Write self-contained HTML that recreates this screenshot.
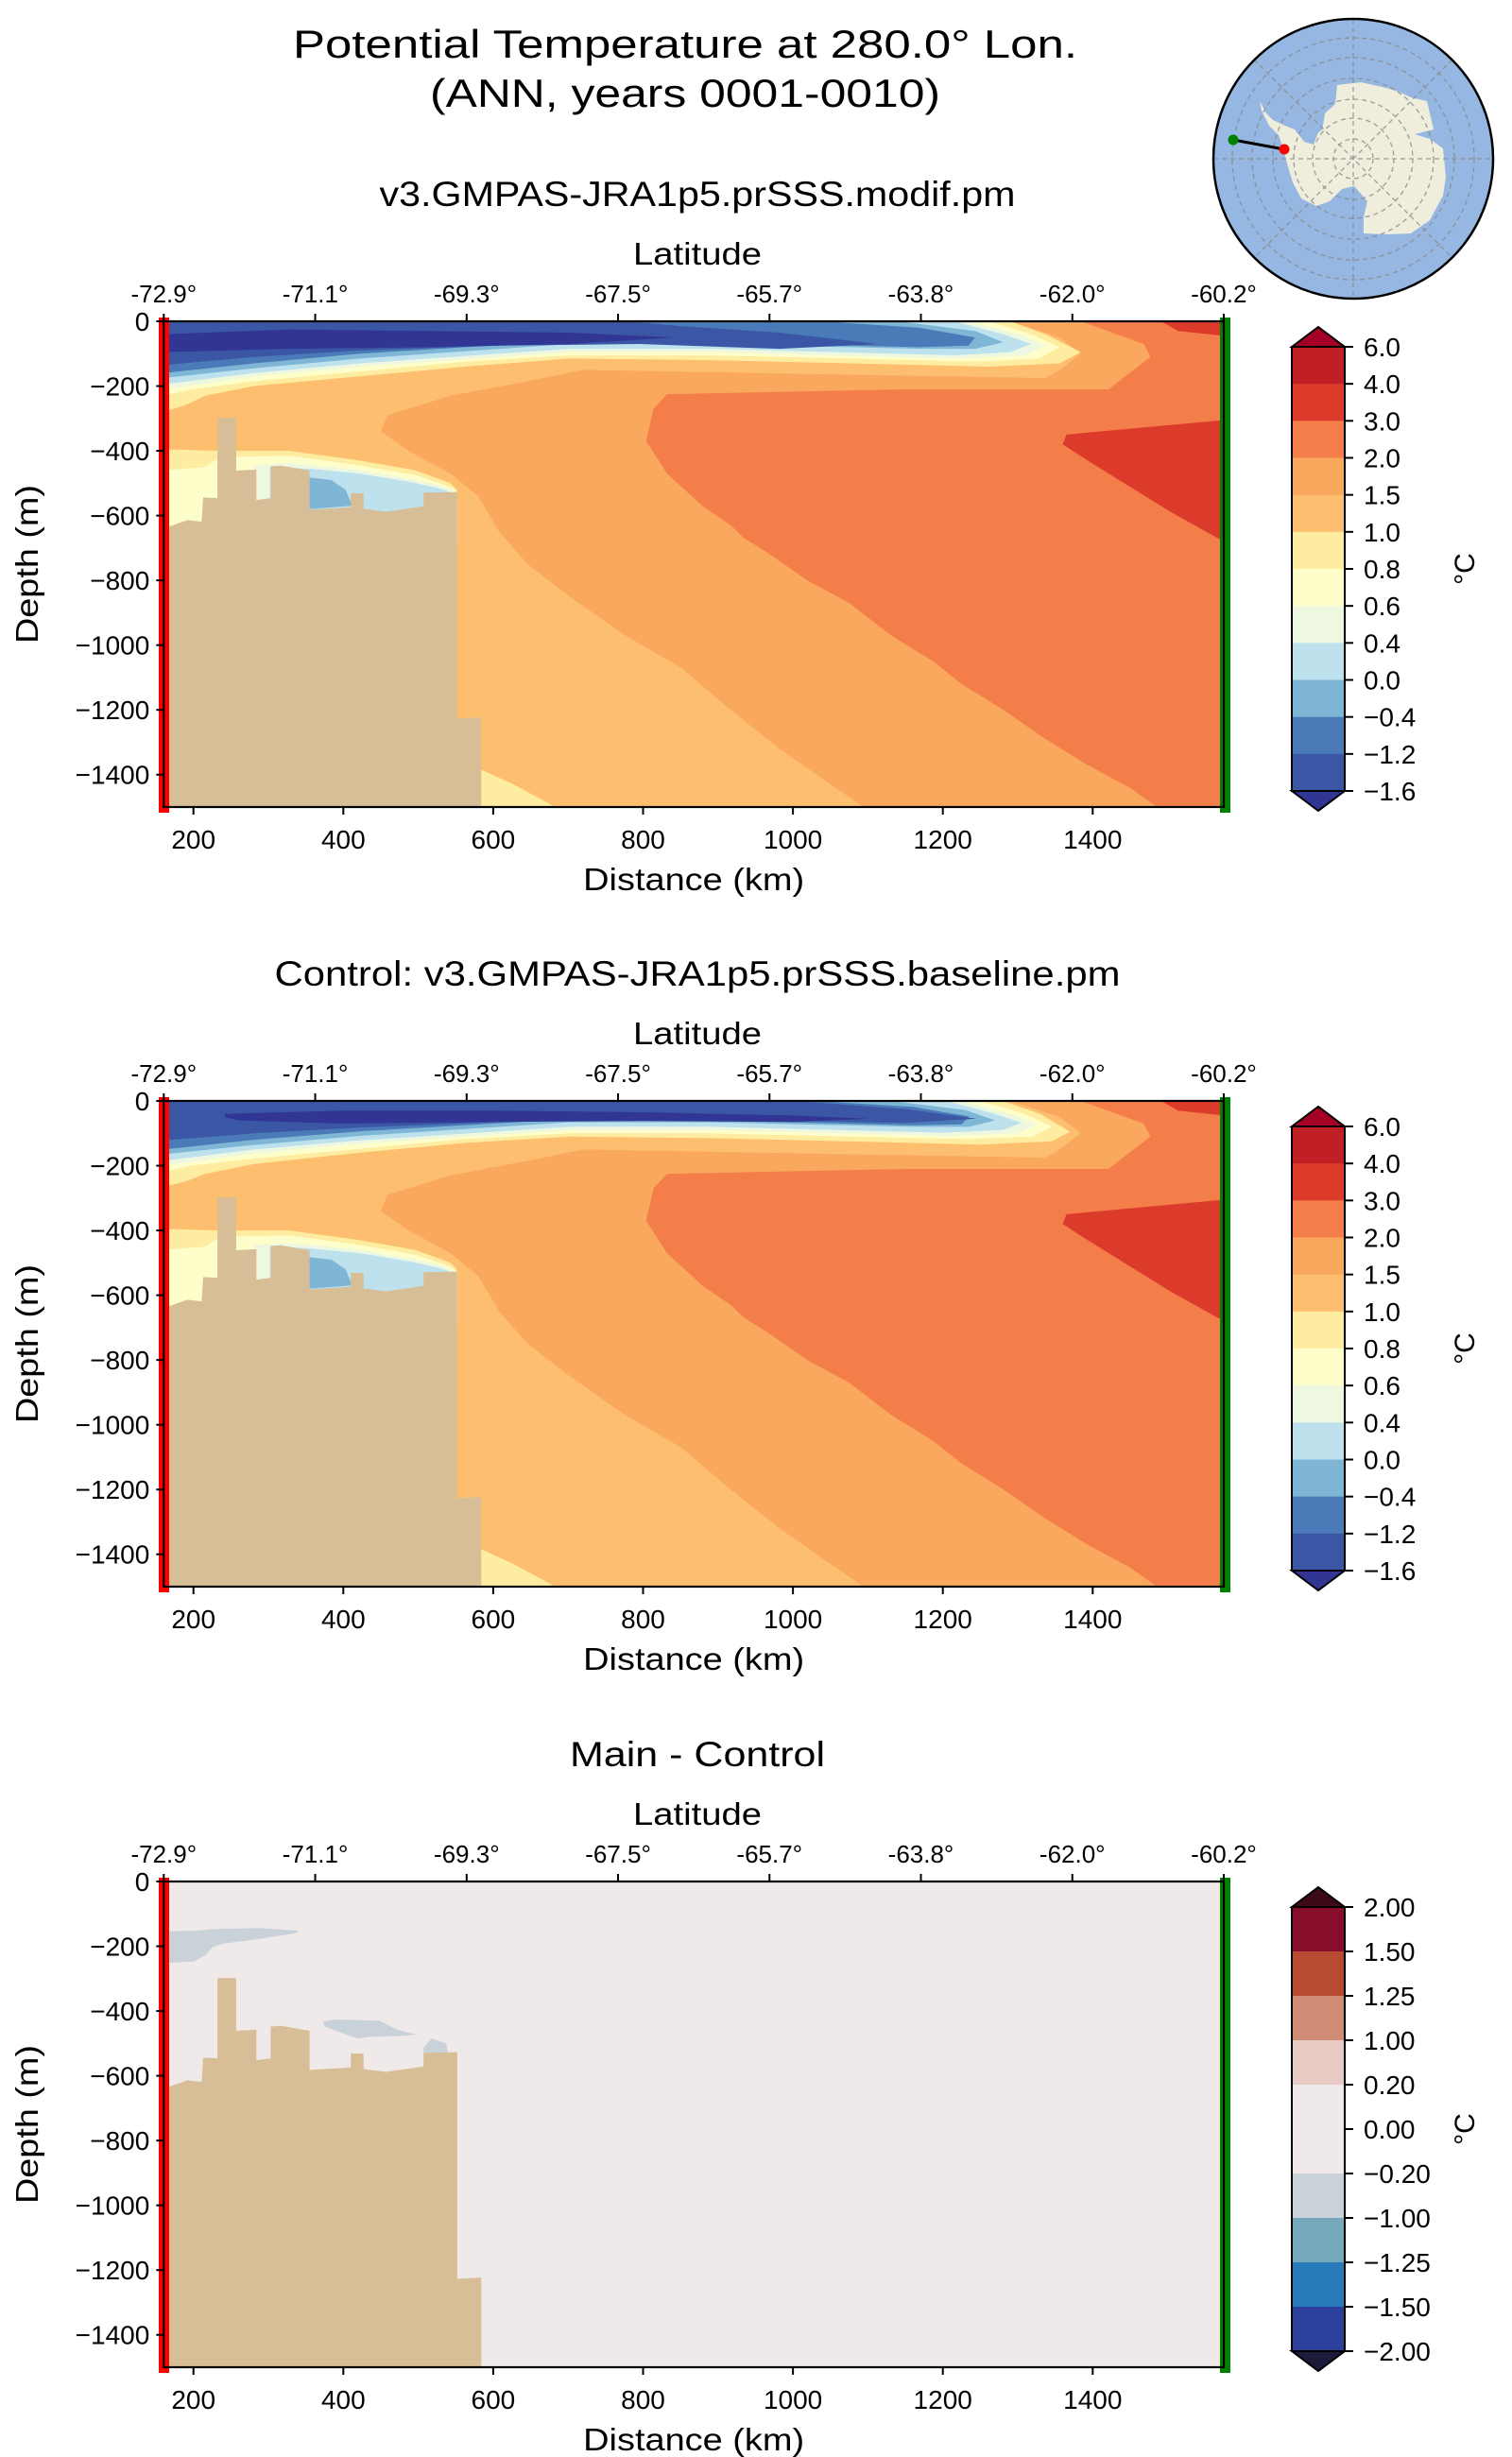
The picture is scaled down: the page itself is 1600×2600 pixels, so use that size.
<!DOCTYPE html>
<html><head><meta charset="utf-8">
<style>
html,body{margin:0;padding:0;background:#fff;}
svg{display:block;font-family:"Liberation Sans","DejaVu Sans",sans-serif;}
</style></head>
<body>
<svg id="fig" width="1600" height="2600" viewBox="0 0 1600 2600" xmlns="http://www.w3.org/2000/svg">
  <rect x="0" y="0" width="1600" height="2600" fill="#fff"/>
  <text x="725" y="61" font-size="42" text-anchor="middle" textLength="830" lengthAdjust="spacingAndGlyphs">Potential Temperature at 280.0° Lon.</text>
  <text x="725" y="113" font-size="42" text-anchor="middle" textLength="540" lengthAdjust="spacingAndGlyphs">(ANN, years 0001-0010)</text>
  <g>
    <defs><clipPath id="gclip"><circle cx="1432" cy="168" r="148"/></clipPath></defs>
    <circle cx="1432" cy="168" r="148" fill="#96b7e2"/>
    <g clip-path="url(#gclip)">
      <path fill="#efeddc" d="M1415,90 L1440,87 L1467,93 L1480,97 L1493,103 L1510,107 L1517,137 L1497,142 L1513,147 L1527,157 L1530,187 L1527,207 L1513,233 L1493,247 L1467,248 L1443,247 L1443,230 L1447,213 L1433,197 L1420,200 L1407,213 L1393,218 L1377,210 L1368,193 L1363,177 L1358,157 L1353,143 L1343,133 L1335,117 L1333,107 L1340,120 L1347,127 L1360,133 L1370,137 L1380,150 L1390,153 L1395,140 L1400,137 L1397,147 L1400,133 L1402,120 L1413,110 Z"/>
      <g fill="none" stroke="#888" stroke-width="1.3" stroke-dasharray="5,4" opacity="0.8">
        <circle cx="1432" cy="168" r="21"/><circle cx="1432" cy="168" r="43"/><circle cx="1432" cy="168" r="63"/>
        <circle cx="1432" cy="168" r="85"/><circle cx="1432" cy="168" r="107"/><circle cx="1432" cy="168" r="128"/>
        <line x1="1284" y1="168" x2="1580" y2="168"/><line x1="1432" y1="20" x2="1432" y2="316"/>
        <line x1="1327" y1="63" x2="1537" y2="273"/><line x1="1537" y1="63" x2="1327" y2="273"/>
      </g>
    </g>
    <circle cx="1432" cy="168" r="148" fill="none" stroke="#000" stroke-width="2.5"/>
    <line x1="1305" y1="148" x2="1359" y2="158" stroke="#000" stroke-width="3"/>
    <circle cx="1305" cy="148" r="5.5" fill="#008000"/>
    <circle cx="1359" cy="158" r="5.5" fill="#ff0000"/>
  </g>
</svg>
<script>
// ---------- data ----------
const xTicks = [200,400,600,800,1000,1200,1400];
const yTicks = [0,-200,-400,-600,-800,-1000,-1200,-1400];
const latTickLabels = ["-72.9°","-71.1°","-69.3°","-67.5°","-65.7°","-63.8°","-62.0°","-60.2°"];
const panelTitles = ["v3.GMPAS-JRA1p5.prSSS.modif.pm","Control: v3.GMPAS-JRA1p5.prSSS.baseline.pm","Main - Control"];

const tempLevels = ["6.0","4.0","3.0","2.0","1.5","1.0","0.8","0.6","0.4","0.0","−0.4","−1.2","−1.6"];
const tempColors = ["#c11f26","#dc3b2c","#f47e4a","#f9a85e","#fdbe70","#feeca0","#fefecb","#eef8e0","#bde2ee","#7fb6d6","#4a7ab7","#3b56a4"];
const tempOver = "#a50026", tempUnder = "#313695";
const diffLevels = ["2.00","1.50","1.25","1.00","0.20","0.00","−0.20","−1.00","−1.25","−1.50","−2.00"];
const diffColors = ["#870e2a","#b84a31","#cf8b74","#e6cac3","#efe9e9","#efe9e9","#c9d2d8","#76a9be","#277bb9","#2b3f9b"];
const diffOver = "#3e0a18", diffUnder = "#1c1b3c";

// bathymetry (km, depth m)
const bathy = [[160,1500],[160,640],[192,614],[211,619],[213,544],[232,546],[232,298],[257,298],[257,461],[284,458],[284,552],[303,546],[303,448],[317,446],[355,461],[355,582],[399,576],[410,574],[410,531],[427,531],[427,579],[457,588],[486,578],[507,571],[507,529],[552,527],[552,1227],[584,1223],[584,1500]];

const modifT15 = [[1290,0],[1356,50],[1384,100],[1356,150],[1337,175],[1075,165],[720,150],[646,185],[543,230],[459,290],[450,340],[487,400],[543,470],[580,540],[608,650],[646,750],[702,850],[776,970],[851,1070],[917,1200],[982,1320],[1038,1410],[1094,1500],[1575,1500],[1575,0]];
const modifT20 = [[1384,0],[1468,70],[1477,110],[1449,160],[1421,210],[1150,210],[832,225],[814,270],[804,370],[832,470],[879,570],[917,630],[935,670],[963,710],[1019,800],[1075,870],[1131,970],[1187,1050],[1225,1120],[1281,1200],[1337,1290],[1393,1370],[1449,1440],[1486,1500],[1575,1500],[1575,0]];
const modifT30a = [[1491,0],[1514,30],[1575,45],[1575,0]];
const modifT30b = [[1575,305],[1365,350],[1360,380],[1393,430],[1449,510],[1505,590],[1575,680]];
const modifE1 = [[160,0],[1290,0],[1337,40],[1384,95],[1356,130],[1262,140],[1075,130],[889,120],[702,115],[562,140],[422,170],[281,200],[216,230],[188,260],[160,280]];
const modifE2 = [[160,0],[1262,0],[1318,40],[1356,80],[1328,115],[1243,125],[1075,115],[889,105],[702,105],[562,125],[422,155],[281,185],[197,210],[160,230]];
const modifE3 = [[160,0],[1234,0],[1300,40],[1337,75],[1309,105],[1215,115],[889,95],[702,95],[422,140],[281,170],[160,210]];
const modifE4 = [[160,0],[1215,0],[1281,40],[1318,70],[1290,95],[1215,105],[889,85],[702,85],[422,130],[281,160],[160,195]];
const modifE5 = [[160,0],[1141,0],[1243,30],[1281,65],[1243,85],[1169,85],[889,70],[702,70],[422,115],[281,145],[160,175]];
const modifE6 = [[160,0],[1038,0],[1169,20],[1243,50],[1234,75],[1169,80],[889,65],[702,60],[422,100],[281,130],[160,160]];
const modifE7 = [[160,0],[776,0],[851,15],[982,35],[1113,70],[982,85],[795,70],[608,75],[422,90],[281,110],[160,135]];
const modifE8 = [[160,40],[328,25],[515,30],[702,35],[842,50],[702,70],[515,80],[328,85],[160,95]];
const shelfS1 = [[160,395],[235,400],[328,400],[422,430],[496,460],[543,500],[552,522],[552,700],[160,700]];
const shelfS2 = [[160,460],[216,450],[235,420],[328,415],[422,445],[496,475],[534,505],[549,520],[549,700],[160,700]];
const shelfS3 = [[281,445],[328,438],[422,460],[496,490],[534,510],[546,522],[546,700],[281,700]];
const shelfS4 = [[302,450],[354,455],[422,470],[487,495],[527,515],[540,525],[540,700],[302,700]];
const shelfS5 = [[354,482],[384,490],[403,520],[412,570],[354,580]];
const deepYellow = [[580,1380],[627,1430],[683,1500],[580,1500]];

const ctrlE1 = [[160,0],[1280,0],[1330,40],[1370,95],[1345,125],[1250,135],[1075,125],[889,115],[702,110],[562,130],[422,160],[281,195],[216,225],[188,250],[160,265]];
const ctrlE2 = [[160,0],[1250,0],[1310,40],[1345,80],[1320,110],[1230,118],[1075,110],[889,100],[702,100],[562,118],[422,148],[281,178],[197,200],[160,220]];
const ctrlE3 = [[160,0],[1225,0],[1290,40],[1325,72],[1300,100],[1205,108],[889,90],[702,90],[422,132],[281,162],[160,200]];
const ctrlE4 = [[160,0],[1205,0],[1270,40],[1305,68],[1280,90],[1200,98],[889,80],[702,80],[422,122],[281,150],[160,185]];
const ctrlE5 = [[160,0],[1130,0],[1230,28],[1270,60],[1235,80],[1160,80],[889,66],[702,66],[422,108],[281,136],[160,165]];
const ctrlE6 = [[160,0],[1030,0],[1160,18],[1235,48],[1225,72],[1160,75],[889,60],[702,56],[422,94],[281,120],[160,150]];
const ctrlE7 = [[160,0],[1000,0],[1150,25],[1245,55],[1150,68],[980,60],[795,55],[608,65],[422,82],[281,100],[160,122]];
const ctrlE8 = [[242,40],[400,30],[600,30],[800,35],[1000,45],[1100,55],[1000,65],[800,62],[600,65],[400,70],[260,60],[242,50]];

const diffBlob1 = [[160,154],[201,152],[226,147],[288,144],[341,152],[337,160],[288,177],[240,192],[226,202],[216,227],[201,247],[160,252]];
const diffBlob2 = [[373,433],[390,426],[448,430],[472,457],[498,473],[472,477],[433,480],[419,485],[404,473],[375,448]];
const diffBlob3 = [[507,513],[518,485],[537,500],[540,527],[507,529]];

// ---------- layout ----------
const NS = "http://www.w3.org/2000/svg";
const svg = document.getElementById('fig');
const panelTops = [340, 1165, 1991];
const PH = 514, X0 = 173.3, X1 = 1295, KM0 = 160.4, PXKM = 0.793, PXM = PH/1500;
function xs(km){ return X0 + (km - KM0) * PXKM; }
function ys(d, top){ return top + d * PXM; }
function el(tag, attrs, parent){ const e = document.createElementNS(NS, tag); for (const k in attrs) e.setAttribute(k, attrs[k]); (parent||svg).appendChild(e); return e; }
function poly(pts, top, fill, parent, name){
  const p = el('polygon', {points: pts.map(q => xs(q[0]).toFixed(1)+','+ys(q[1],top).toFixed(1)).join(' '), fill: fill}, parent);
  
  
  return p;
}
function txt(x, y, s, size, anchor, parent, name, extra){
  const t = el('text', Object.assign({x:x, y:y, 'font-size':size, 'text-anchor':anchor||'middle', fill:'#000'}, extra||{}), parent);
  t.textContent = s;
  
  
  return t;
}
const SG = 'spacingAndGlyphs';

function drawPanel(i){
  const top = panelTops[i];
  const g = el('g', {});
  
  
  const cid = 'clip' + i;
  const defs = el('defs', {}, g);
  const cp = el('clipPath', {id: cid}, defs);
  el('rect', {x: X0, y: top, width: X1 - X0, height: PH}, cp);
  const plot = el('g', {'clip-path': 'url(#' + cid + ')'}, g);
  
  
  if (i < 2){
    el('rect', {x: X0, y: top, width: X1-X0, height: PH, fill: tempColors[4]}, plot);
    poly(modifT15, top, tempColors[3], plot, 'band-1p5-2p0');
    poly(modifT20, top, tempColors[2], plot, 'band-2p0-3p0');
    poly(modifT30a, top, tempColors[1], plot, 'band-3p0-4p0-surface');
    poly(modifT30b, top, tempColors[1], plot, 'band-3p0-4p0-core');
    const E = i === 0 ? [modifE1,modifE2,modifE3,modifE4,modifE5,modifE6,modifE7,modifE8] : [ctrlE1,ctrlE2,ctrlE3,ctrlE4,ctrlE5,ctrlE6,ctrlE7,ctrlE8];
    const ec = [tempColors[5],tempColors[6],tempColors[7],tempColors[8],tempColors[9],tempColors[10],tempColors[11],tempUnder];
    E.forEach((pp, k) => poly(pp, top, ec[k], plot, 'cold-tongue-band-' + (k+1)));
    poly(shelfS1, top, tempColors[5], plot, 'shelf-band-0p8');
    poly(shelfS2, top, tempColors[6], plot, 'shelf-band-0p6');
    poly(shelfS3, top, tempColors[7], plot, 'shelf-band-0p4');
    poly(shelfS4, top, tempColors[8], plot, 'shelf-band-0p0');
    poly(shelfS5, top, tempColors[9], plot, 'shelf-band-neg0p4');
    poly(deepYellow, top, tempColors[5], plot, 'deep-band-0p8');
  } else {
    el('rect', {x: X0, y: top, width: X1-X0, height: PH, fill: diffColors[5]}, plot);
    poly(diffBlob1, top, diffColors[6], plot, 'diff-blob-surface');
    poly(diffBlob2, top, diffColors[6], plot, 'diff-blob-shelf');
    poly(diffBlob3, top, diffColors[6], plot, 'diff-blob-sill');
  }
  poly(bathy, top, '#d8be96', plot, 'bathymetry');
  const rb = el('rect', {x: 168, y: top - 4, width: 11, height: PH + 10, fill: '#ff0000'}, g);
  
  
  const gb = el('rect', {x: 1291, y: top - 4, width: 11, height: PH + 10, fill: '#008000'}, g);
  
  
  const fr = el('rect', {x: X0, y: top, width: X1 - X0, height: PH, fill: 'none', stroke: '#000', 'stroke-width': 2.2}, g);
  
  
  xTicks.forEach(v => {
    el('line', {x1: xs(v), x2: xs(v), y1: top + PH, y2: top + PH + 8, stroke: '#000', 'stroke-width': 2}, g);
    txt(xs(v), top + PH + 44, String(v), 28, 'middle', g, 'x-tick-label');
  });
  txt((X0 + X1)/2, top + PH + 88, 'Distance (km)', 33, 'middle', g, 'x-axis-title', {textLength: 234, lengthAdjust: SG});
  yTicks.forEach(v => {
    const y = ys(-v, top);
    el('line', {x1: X0 - 8, x2: X0, y1: y, y2: y, stroke: '#000', 'stroke-width': 2}, g);
    txt(X0 - 15, y + 10, v === 0 ? '0' : '−' + (-v), 28, 'end', g, 'y-tick-label');
  });
  txt(0, 0, 'Depth (m)', 33, 'middle', g, 'y-axis-title', {transform: 'translate(40,' + (top + PH/2) + ') rotate(-90)', textLength: 168, lengthAdjust: SG});
  latTickLabels.forEach((s, k) => {
    const x = X0 + k * (X1 - X0) / 7;
    el('line', {x1: x, x2: x, y1: top - 8, y2: top, stroke: '#000', 'stroke-width': 2}, g);
    txt(x, top - 20, s, 26, 'middle', g, 'latitude-tick-label');
  });
  txt(738, top - 60, 'Latitude', 33, 'middle', g, 'latitude-axis-title', {textLength: 136, lengthAdjust: SG});
  const tw = [673, 895, 270][i];
  txt(738, top - 122, panelTitles[i], 37, 'middle', g, 'panel-title', {textLength: tw, lengthAdjust: SG});
  const levels = i < 2 ? tempLevels : diffLevels;
  const cols = i < 2 ? tempColors : diffColors;
  const over = i < 2 ? tempOver : diffOver, under = i < 2 ? tempUnder : diffUnder;
  const cb = el('g', {}, g);
  
  
  const cx0 = 1367, cx1 = 1423, cy0 = top + 27, cy1 = top + 497, n = cols.length, bh = (cy1 - cy0)/n;
  cols.forEach((c, k) => {
    const r = el('rect', {x: cx0, y: cy0 + k*bh, width: cx1 - cx0, height: bh + 0.6, fill: c}, cb);
    
    
  });
  const tri1 = el('polygon', {points: `${cx0},${cy0} ${(cx0+cx1)/2},${cy0-21} ${cx1},${cy0}`, fill: over, stroke: '#000', 'stroke-width': 2}, cb);
  
  
  const tri2 = el('polygon', {points: `${cx0},${cy1} ${(cx0+cx1)/2},${cy1+21} ${cx1},${cy1}`, fill: under, stroke: '#000', 'stroke-width': 2}, cb);
  
  
  el('rect', {x: cx0, y: cy0, width: cx1 - cx0, height: cy1 - cy0, fill: 'none', stroke: '#000', 'stroke-width': 2}, cb);
  levels.forEach((s, k) => {
    const y = cy0 + k * (cy1 - cy0) / (levels.length - 1);
    el('line', {x1: cx1, x2: cx1 + 9, y1: y, y2: y, stroke: '#000', 'stroke-width': 2}, cb);
    txt(cx1 + 20, y + 10, s, 28, 'start', cb, 'colorbar-tick-label');
  });
  txt(0, 0, '°C', 30, 'middle', cb, 'colorbar-unit-label', {transform: 'translate(1560,' + ((cy0+cy1)/2) + ') rotate(-90)'});
}
[0,1,2].forEach(drawPanel);
</script>
</body></html>
